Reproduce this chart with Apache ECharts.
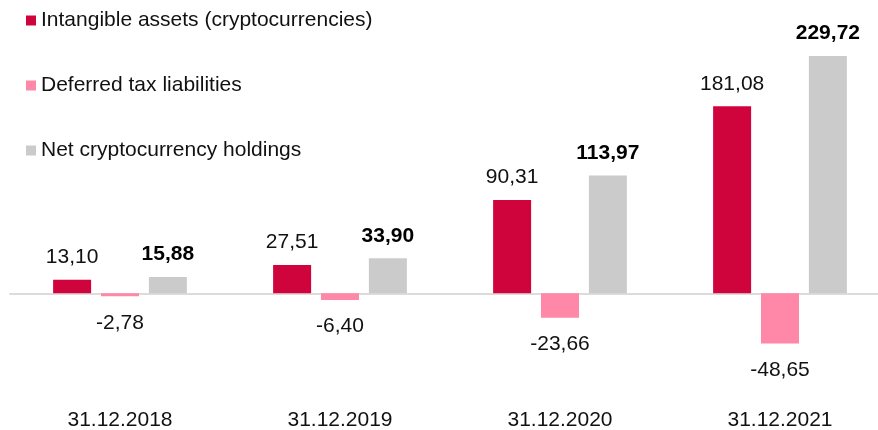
<!DOCTYPE html>
<html>
<head>
<meta charset="utf-8">
<script src="https://cdn.jsdelivr.net/npm/echarts@6/dist/echarts.min.js"></script>
<style>
  html, body { margin: 0; padding: 0; background: #fff; }
  #chart { width: 878px; height: 430px; }
</style>
</head>
<body>
<div id="chart"></div>
<script>
var categories = ['31.12.2018', '31.12.2019', '31.12.2020', '31.12.2021'];
var intangibleAssets = [13.10, 27.51, 90.31, 181.08];
var deferredTax = [-2.78, -6.40, -23.66, -48.65];
var netHoldings = [15.88, 33.90, 113.97, 229.72];

window.onload = function () {

    var chartDom = document.getElementById('chart');
    var myChart = echarts.init(chartDom);
    var font = '"Liberation Sans", Arial, sans-serif';

    function fmt(p) {
        return p.value.toFixed(2).replace('.', ',');
    }

    var option = {
        animation: false,
        textStyle: { fontFamily: font },
        legend: {
            orient: 'vertical',
            left: 26,
            top: 10,
            padding: 0,
            itemWidth: 10,
            itemHeight: 10,
            itemGap: 44,
            icon: 'rect',
            textStyle: { fontSize: 21, color: '#111', fontFamily: font, lineHeight: 21 },
            data: ['Intangible assets (cryptocurrencies)', 'Deferred tax liabilities', 'Net cryptocurrency holdings']
        },
        grid: { left: 10, right: -12, top: 35, bottom: 85, outerBoundsMode: 'none' },
        xAxis: [
            {
                type: 'category',
                data: categories,
                position: 'bottom',
                axisLine: { show: false, onZero: false },
                axisTick: { show: false },
                axisLabel: { fontSize: 21, color: '#111', margin: 65, fontFamily: font }
            },
            {
                type: 'category',
                data: categories,
                position: 'top',
                axisLine: { onZero: true, lineStyle: { color: '#dcdcdc', width: 2 } },
                axisTick: { show: false },
                axisLabel: { show: false }
            }
        ],
        yAxis: {
            type: 'value',
            min: -50,
            max: 250,
            interval: 50,
            show: false,
            splitLine: { show: false }
        },
        series: [
            {
                name: 'Intangible assets (cryptocurrencies)',
                type: 'bar',
                color: '#D0043C',
                barWidth: 38,
                barGap: '26%',
                label: { show: true, position: 'top', distance: 12, fontSize: 21, color: '#111', formatter: fmt },
                data: intangibleAssets
            },
            {
                name: 'Deferred tax liabilities',
                type: 'bar',
                color: '#FF88A8',
                barWidth: 38,
                barGap: '26%',
                label: { show: true, position: 'bottom', distance: 16, fontSize: 21, color: '#111', formatter: fmt },
                data: deferredTax
            },
            {
                name: 'Net cryptocurrency holdings',
                type: 'bar',
                color: '#CBCBCB',
                barWidth: 38,
                barGap: '26%',
                label: { show: true, position: 'top', distance: 12, fontSize: 21, fontWeight: 'bold', color: '#000', formatter: fmt },
                data: netHoldings
            }
        ]
    };

    myChart.setOption(option);

    window.addEventListener('resize', function () {
        myChart.resize();
    });
};
</script>
</body>
</html>
